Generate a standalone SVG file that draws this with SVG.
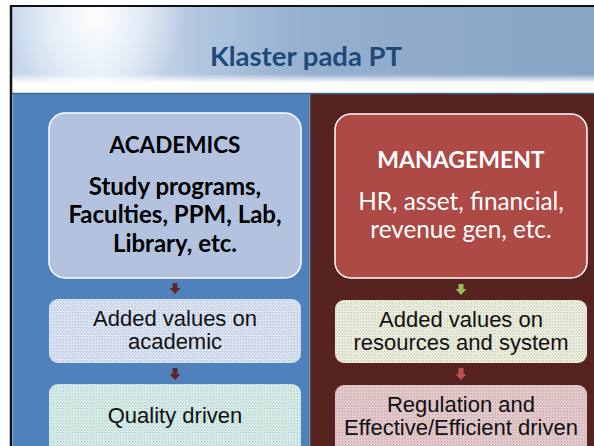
<svg xmlns="http://www.w3.org/2000/svg" width="594" height="446" viewBox="0 0 594 446">
<defs>
<style>
.hd{font-family:Lato,"Open Sans","Liberation Sans",sans-serif;font-weight:bold;text-anchor:middle}
.bd{font-family:Lato,"Open Sans","Liberation Sans",sans-serif;text-anchor:middle}
.ar{font-family:"Liberation Sans",Arial,sans-serif;font-size:22px;text-anchor:middle;fill:#111}
</style>
<linearGradient id="sky" x1="0" y1="0" x2="1" y2="0">
<stop offset="0" stop-color="#c4d5ea"/>
<stop offset="0.15" stop-color="#e2ecf7"/>
<stop offset="0.3" stop-color="#b5c9e1"/>
<stop offset="0.5" stop-color="#96b0cf"/>
<stop offset="1" stop-color="#87a4c4"/>
</linearGradient>
<radialGradient id="glow" cx="95" cy="15" r="90" gradientUnits="userSpaceOnUse">
<stop offset="0" stop-color="#ffffff" stop-opacity="0.9"/>
<stop offset="1" stop-color="#ffffff" stop-opacity="0"/>
</radialGradient>
<linearGradient id="fade" x1="0" y1="0" x2="0" y2="1">
<stop offset="0" stop-color="#ffffff" stop-opacity="0"/>
<stop offset="0.45" stop-color="#ffffff" stop-opacity="0.95"/>
<stop offset="1" stop-color="#ffffff" stop-opacity="1"/>
</linearGradient>
<pattern id="pB" width="3" height="3" patternUnits="userSpaceOnUse">
<rect width="3" height="3" fill="#dbe3f1"/><rect width="1" height="1" fill="#aebfdc"/><rect x="2" y="1" width="1" height="1" fill="#c3cfe6"/>
</pattern>
<pattern id="pQ" width="3" height="3" patternUnits="userSpaceOnUse">
<rect width="3" height="3" fill="#d6eae6"/><rect width="1" height="1" fill="#aecdd0"/><rect x="2" y="1" width="1" height="1" fill="#c2dcd9"/>
</pattern>
<pattern id="pG" width="3" height="3" patternUnits="userSpaceOnUse">
<rect width="3" height="3" fill="#eaecdc"/><rect width="1" height="1" fill="#c5c6b4"/><rect x="2" y="1" width="1" height="1" fill="#d8dac8"/>
</pattern>
<pattern id="pR" width="3" height="3" patternUnits="userSpaceOnUse">
<rect width="3" height="3" fill="#e2c9cc"/><rect width="1" height="1" fill="#c6a3a8"/><rect x="2" y="1" width="1" height="1" fill="#d4b5b9"/>
</pattern>
</defs>
<rect width="594" height="446" fill="#ffffff"/>
<g id="header">
<rect x="12" y="7" width="582" height="86" fill="url(#sky)"/>
<rect x="12" y="7" width="582" height="86" fill="url(#glow)"/>
<rect x="12" y="74" width="582" height="19" fill="url(#fade)"/>
<line x1="10" y1="6" x2="594" y2="6" stroke="#111" stroke-width="2"/>
<line x1="11" y1="5" x2="11" y2="446" stroke="#111" stroke-width="2.5"/>
<text class="hd" x="306" y="66" font-size="27.5" fill="#1d4a7a">Klaster pada PT</text>
</g>
<g id="panels">
<rect x="12.5" y="94" width="297" height="352" fill="#4f81bd"/>
<rect x="311" y="94" width="283" height="352" fill="#562321"/>
<line x1="12" y1="93.5" x2="594" y2="93.5" stroke="#3d6a9b" stroke-width="1.5"/>
<line x1="310.3" y1="94" x2="310.3" y2="446" stroke="#4a4f6a" stroke-width="1.5"/>
</g>
<g id="academics">
<rect x="49" y="113" width="252" height="165" rx="16" fill="#b3c3df" stroke="#ffffff" stroke-width="1.5"/>
<text class="hd" x="175" y="153" font-size="22.5" fill="#000">ACADEMICS</text>
<text class="hd" x="175" y="195" font-size="24" fill="#000">Study programs,</text>
<text class="hd" x="175" y="223" font-size="24" fill="#000">Faculties, PPM, Lab,</text>
<text class="hd" x="175" y="252" font-size="24" fill="#000">Library, etc.</text>
</g>
<g id="management">
<rect x="335" y="114" width="252" height="164" rx="16" fill="#ad4a46" stroke="#ffffff" stroke-width="1.5"/>
<text class="hd" x="461" y="168" font-size="23" fill="#ffffff">MANAGEMENT</text>
<text class="bd" x="461" y="210" font-size="24.3" fill="#ffffff">HR, asset, financial,</text>
<text class="bd" x="461" y="238" font-size="24.3" fill="#ffffff">revenue gen, etc.</text>
</g>
<g id="added-academic">
<rect x="49" y="299" width="252" height="64" rx="9" fill="url(#pB)"/>
<text class="ar" x="175" y="326">Added values on</text>
<text class="ar" x="175" y="349">academic</text>
</g>
<g id="quality">
<rect x="49" y="384" width="252" height="80" rx="9" fill="url(#pQ)"/>
<text class="ar" x="175" y="423">Quality driven</text>
</g>
<g id="added-resources">
<rect x="335" y="300" width="252" height="63" rx="9" fill="url(#pG)"/>
<text class="ar" x="461" y="327">Added values on</text>
<text class="ar" x="461" y="350">resources and system</text>
</g>
<g id="regulation">
<rect x="335" y="385" width="252" height="80" rx="9" fill="url(#pR)"/>
<text class="ar" x="461" y="412">Regulation and</text>
<text class="ar" x="461" y="435">Effective/Efficient driven</text>
</g>
<g id="connectors">
<path d="M172.5,283 h5 v5 h3 l-5.5,6 l-5.5,-6 h3 z" fill="#632523"/>
<path d="M172.5,368 h5 v6 h3 l-5.5,6 l-5.5,-6 h3 z" fill="#632523"/>
<path d="M458.5,284 h5 v5 h3 l-5.5,6 l-5.5,-6 h3 z" fill="#9bbb59"/>
<path d="M458.5,368 h5 v6 h3 l-5.5,6 l-5.5,-6 h3 z" fill="#c0504d"/>
</g>
</svg>
